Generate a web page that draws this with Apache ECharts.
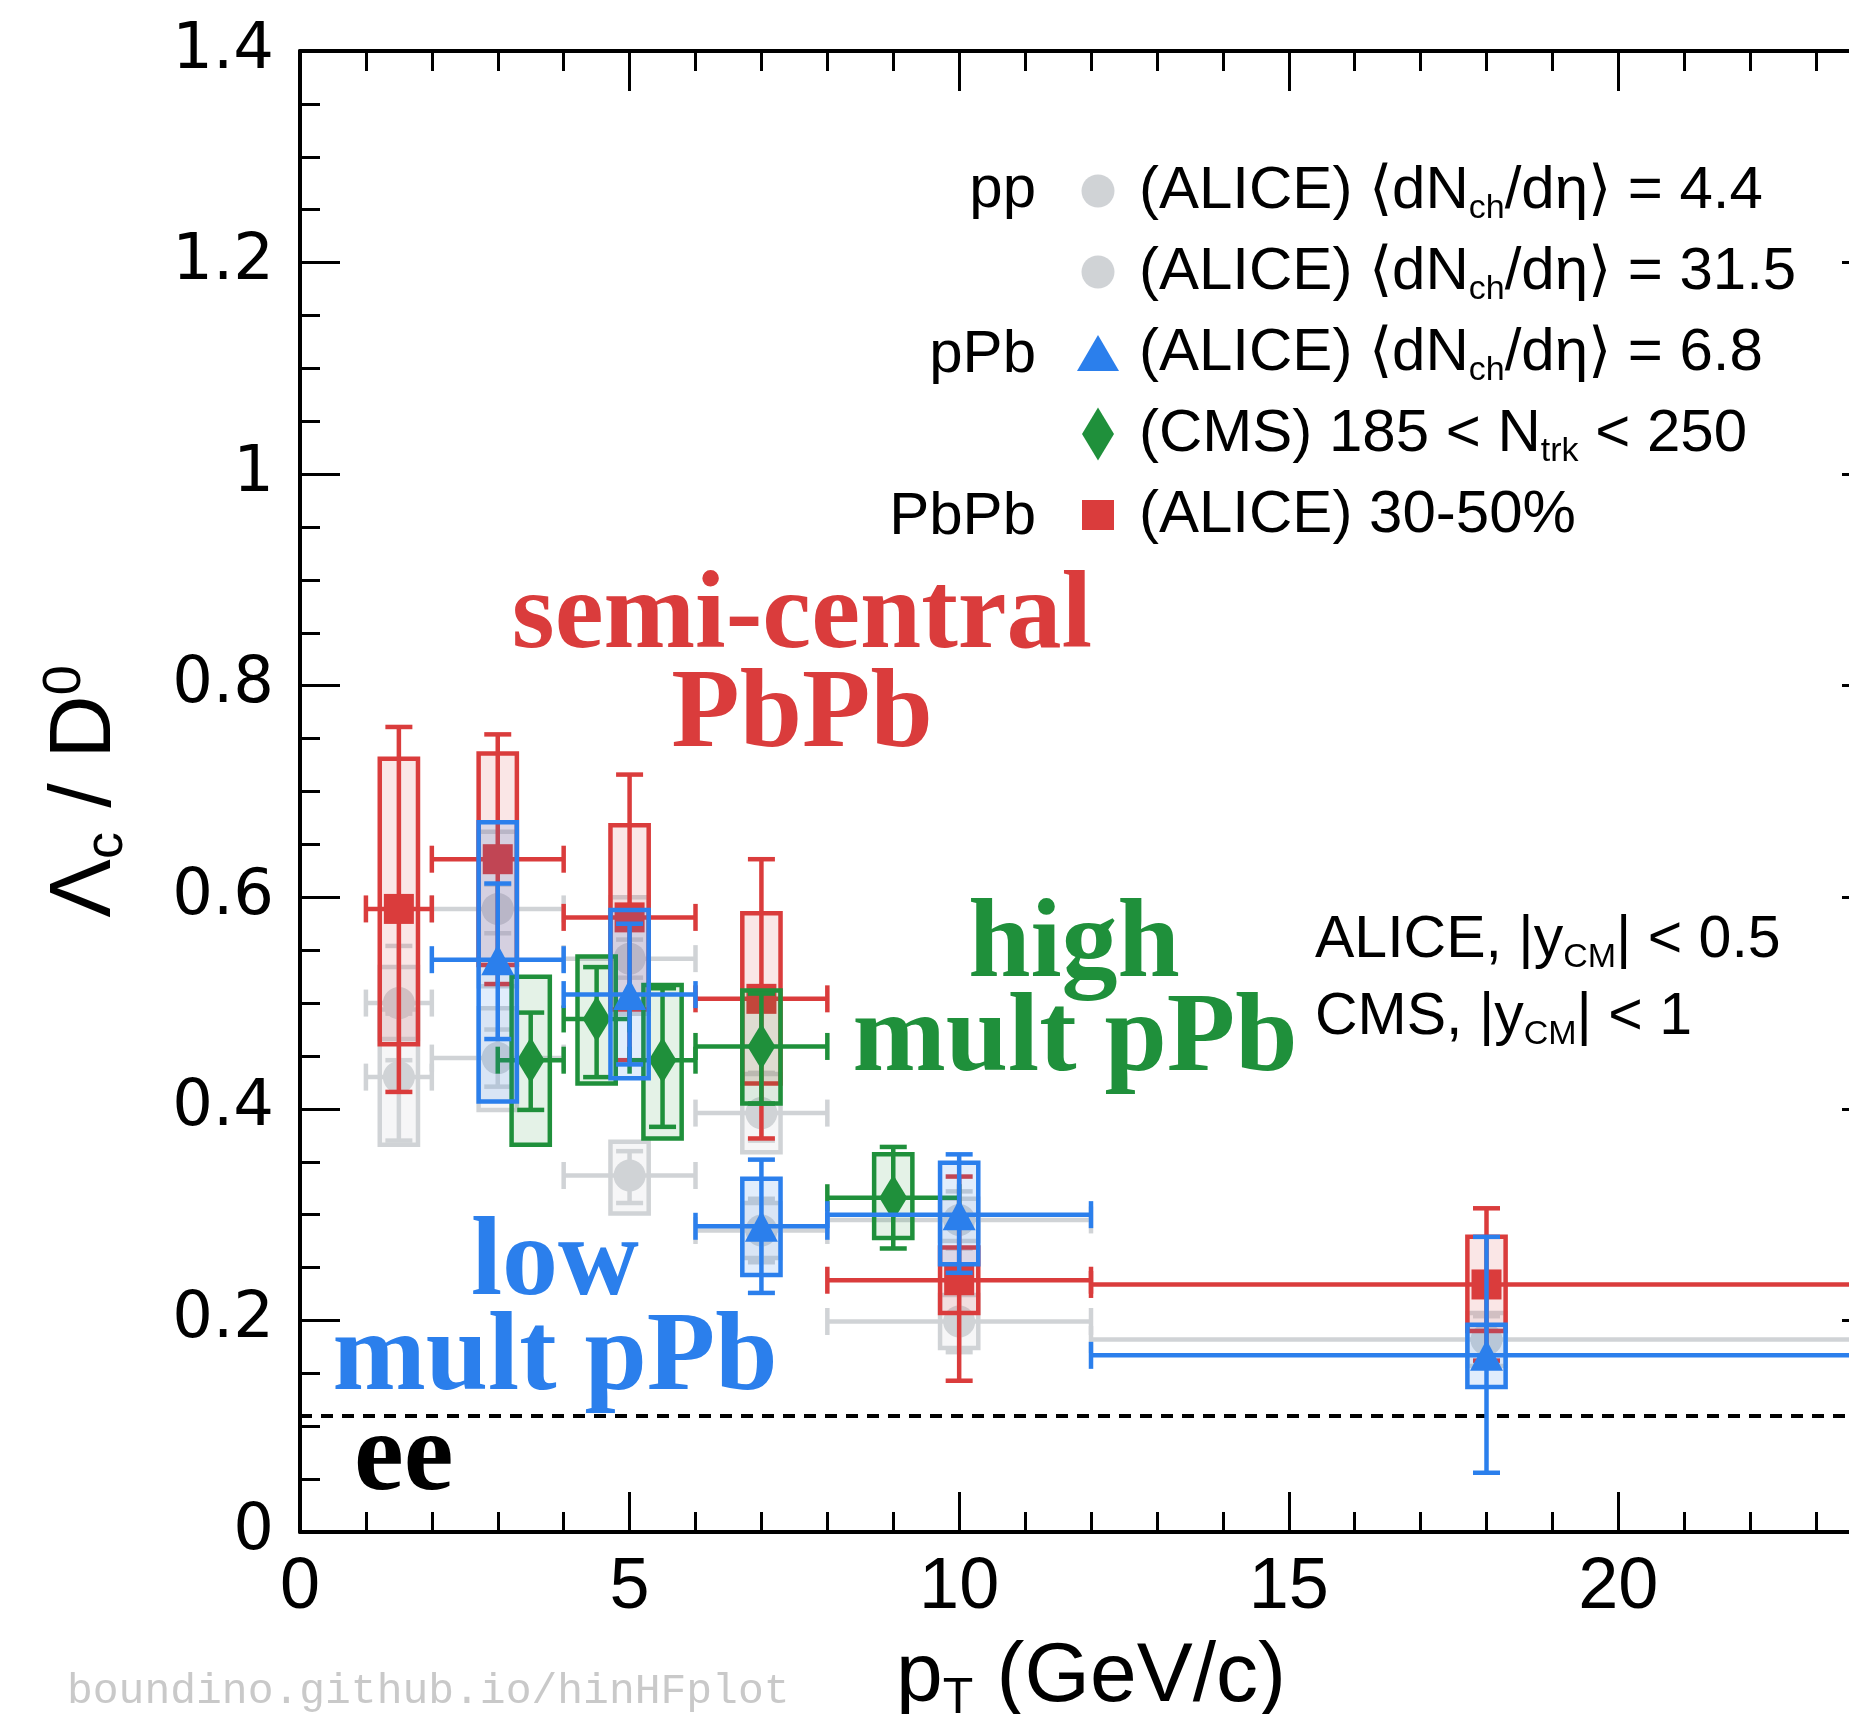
<!DOCTYPE html>
<html>
<head>
<meta charset="utf-8">
<script src="https://cdn.jsdelivr.net/npm/echarts@6/dist/echarts.min.js"></script>
<style>
  html, body { margin: 0; padding: 0; background: #ffffff; }
  #chart { width: 1849px; height: 1714px; }
</style>
</head>
<body>
<div id="chart"></div>
<script>
// ---------------- data: Lambda_c / D0 versus pT ----------------
// pp, ALICE, <dNch/deta> = 4.4
const ppLowPt      = [1.5, 3, 5, 7, 10, 18];
const ppLowPtLo    = [1, 2, 4, 6, 8, 12];
const ppLowPtHi    = [2, 4, 6, 8, 12, 24];
const ppLowRatio   = [0.430, 0.448, 0.337, 0.285, 0.199, 0.182];
const ppLowStatLo  = [0.370, 0.421, 0.311, 0.255, 0.170, 0.160];
const ppLowStatHi  = [0.490, 0.475, 0.360, 0.315, 0.228, 0.204];
const ppLowSysLo   = [0.366, 0.399, 0.301, 0.259, 0.174, 0.157];
const ppLowSysHi   = [0.494, 0.495, 0.369, 0.311, 0.224, 0.207];

// pp, ALICE, <dNch/deta> = 31.5
const ppHighPt     = [1.5, 3, 5, 7, 10];
const ppHighPtLo   = [1, 2, 4, 6, 8];
const ppHighPtHi   = [2, 4, 6, 8, 12];
const ppHighRatio  = [0.500, 0.589, 0.542, 0.396, 0.295];
const ppHighStatLo = [0.446, 0.566, 0.524, 0.370, 0.268];
const ppHighStatHi = [0.554, 0.612, 0.560, 0.434, 0.322];
const ppHighSysLo  = [0.466, 0.516, 0.490, 0.359, 0.275];
const ppHighSysHi  = [0.534, 0.662, 0.600, 0.433, 0.315];

// pPb, ALICE, <dNch/deta> = 6.8
const pPbPt        = [3, 5, 7, 10, 18];
const pPbPtLo      = [2, 4, 6, 8, 12];
const pPbPtHi      = [4, 6, 8, 12, 24];
const pPbRatio     = [0.541, 0.508, 0.289, 0.300, 0.167];
const pPbStatLo    = [0.466, 0.442, 0.226, 0.245, 0.056];
const pPbStatHi    = [0.613, 0.575, 0.352, 0.357, 0.279];
const pPbSysLo     = [0.407, 0.429, 0.243, 0.253, 0.137];
const pPbSysHi     = [0.671, 0.588, 0.334, 0.349, 0.196];

// pPb, CMS, 185 < Ntrk < 250
const cmsPt        = [3.5, 4.5, 5.5, 7, 9];
const cmsPtLo      = [3, 4, 5, 6, 8];
const cmsPtHi      = [4, 5, 6, 8, 10];
const cmsRatio     = [0.446, 0.485, 0.446, 0.459, 0.316];
const cmsStatLo    = [0.399, 0.430, 0.383, 0.405, 0.268];
const cmsStatHi    = [0.491, 0.534, 0.514, 0.509, 0.364];
const cmsSysLo     = [0.366, 0.424, 0.372, 0.405, 0.278];
const cmsSysHi     = [0.525, 0.544, 0.517, 0.512, 0.357];

// PbPb, ALICE, 30-50%
const pbpbPt       = [1.5, 3, 5, 7, 10, 18];
const pbpbPtLo     = [1, 2, 4, 6, 8, 12];
const pbpbPtHi     = [2, 4, 6, 8, 12, 24];
const pbpbRatio    = [0.589, 0.636, 0.581, 0.504, 0.238, 0.234];
const pbpbStatLo   = [0.416, 0.518, 0.446, 0.372, 0.143, 0.162];
const pbpbStatHi   = [0.761, 0.754, 0.716, 0.636, 0.336, 0.306];
const pbpbSysLo    = [0.461, 0.536, 0.494, 0.424, 0.207, 0.190];
const pbpbSysHi    = [0.731, 0.736, 0.668, 0.585, 0.269, 0.279];

// e+e- reference value
const eeRatio = 0.11;

// axis ranges
const X_MIN = 0, X_MAX = 24, X_MAJOR = 5, X_MINOR = 1;
const Y_MIN = 0, Y_MAX = 1.4, Y_MAJOR = 0.2;

// ---------------- styles ----------------
const RED = '#da3c3c', RED_FILL = 'rgba(218,60,60,0.13)';
const BLUE = '#2b7fec', BLUE_FILL = 'rgba(43,127,236,0.14)';
const GREEN = '#1f903b', GREEN_FILL = 'rgba(31,144,59,0.12)';
const GREY = '#d0d3d6', GREY_FILL = 'rgba(208,211,214,0.20)';
const LW = 4.5;        // error-bar / box stroke width
const CAP = 13.5;      // cap half-length in px
const BOX_HALF = 0.29; // half width of systematic boxes in pT units

const SANS = '"Liberation Sans", Arial, Helvetica, sans-serif';
const SERIF = '"Liberation Serif", "Times New Roman", serif';

// legend icons, all drawn inside the same 42 x 54 frame
const ICON_CIRCLE   = 'path://M0,0M42,54M37.5,27A16.5,16.5,0,1,1,4.5,27A16.5,16.5,0,1,1,37.5,27Z';
const ICON_TRIANGLE = 'path://M0,0M42,54M21,9L42,45L0,45Z';
const ICON_DIAMOND  = 'path://M0,0M42,54M21,0.5L37,27L21,53.5L5,27Z';
const ICON_SQUARE   = 'path://M0,0M42,54M5,12H37V42H5Z';

function rows(pt, lo, hi, y, sLo, sHi, bLo, bHi) {
  return pt.map((v, i) => [v, y[i], lo[i], hi[i], sLo[i], sHi[i], bLo[i], bHi[i]]);
}

function errorRenderer(color, fill) {
  return function (params, api) {
    const x = api.value(0), y = api.value(1);
    const c = api.coord([x, y]);
    const xl = api.coord([api.value(2), y])[0];
    const xh = api.coord([api.value(3), y])[0];
    const sLo = api.coord([x, api.value(4)])[1];
    const sHi = api.coord([x, api.value(5)])[1];
    const b0 = api.coord([x - BOX_HALF, api.value(6)]);
    const b1 = api.coord([x + BOX_HALF, api.value(7)]);
    const ls = { stroke: color, lineWidth: LW };
    return {
      type: 'group',
      children: [
        { type: 'rect', shape: { x: b0[0], y: b1[1], width: b1[0] - b0[0], height: b0[1] - b1[1] },
          style: { fill: fill, stroke: color, lineWidth: LW } },
        { type: 'line', shape: { x1: c[0], y1: sLo, x2: c[0], y2: sHi }, style: ls },
        { type: 'line', shape: { x1: c[0] - CAP, y1: sLo, x2: c[0] + CAP, y2: sLo }, style: ls },
        { type: 'line', shape: { x1: c[0] - CAP, y1: sHi, x2: c[0] + CAP, y2: sHi }, style: ls },
        { type: 'line', shape: { x1: xl, y1: c[1], x2: xh, y2: c[1] }, style: ls },
        { type: 'line', shape: { x1: xl, y1: c[1] - CAP, x2: xl, y2: c[1] + CAP }, style: ls },
        { type: 'line', shape: { x1: xh, y1: c[1] - CAP, x2: xh, y2: c[1] + CAP }, style: ls }
      ]
    };
  };
}

function errSeries(data, color, fill, z) {
  return {
    type: 'custom', silent: true, z: z, clip: true,
    renderItem: errorRenderer(color, fill),
    encode: { x: 0, y: 1 },
    data: data
  };
}

function markerSeries(name, pt, y, symbol, size, color, z) {
  return {
    type: 'scatter', name: name, silent: true, z: z,
    symbol: symbol, symbolSize: size,
    itemStyle: { color: color, opacity: 1 },
    data: pt.map((v, i) => [v, y[i]])
  };
}

const NAME_PP_LOW = 'pp 4.4', NAME_PP_HIGH = 'pp 31.5', NAME_PPB = 'pPb 6.8',
      NAME_CMS = 'pPb CMS', NAME_PBPB = 'PbPb 30-50';

const legendText = {};
legendText[NAME_PP_LOW]  = '{f|(ALICE) \u27E8dN}{s|ch}{t|/d\u03B7\u27E9 = 4.4}';
legendText[NAME_PP_HIGH] = '{f|(ALICE) \u27E8dN}{s|ch}{t|/d\u03B7\u27E9 = 31.5}';
legendText[NAME_PPB]     = '{f|(ALICE) \u27E8dN}{s|ch}{t|/d\u03B7\u27E9 = 6.8}';
legendText[NAME_CMS]     = '{f|(CMS) 185 < N}{s|trk}{t| < 250}';
legendText[NAME_PBPB]    = '{f|(ALICE) 30-50%}';

const ppLowSeries = markerSeries(NAME_PP_LOW, ppLowPt, ppLowRatio, 'circle', 32, GREY, 3);
ppLowSeries.markLine = {
  silent: true, symbol: ['none', 'none'], label: { show: false },
  lineStyle: { color: '#000', width: 4, type: [12, 9] },
  data: [{ yAxis: eeRatio }]
};

const series = [
  errSeries(rows(ppLowPt, ppLowPtLo, ppLowPtHi, ppLowRatio, ppLowStatLo, ppLowStatHi, ppLowSysLo, ppLowSysHi), GREY, GREY_FILL, 2),
  errSeries(rows(ppHighPt, ppHighPtLo, ppHighPtHi, ppHighRatio, ppHighStatLo, ppHighStatHi, ppHighSysLo, ppHighSysHi), GREY, GREY_FILL, 2),
  ppLowSeries,
  markerSeries(NAME_PP_HIGH, ppHighPt, ppHighRatio, 'circle', 32, GREY, 3),
  errSeries(rows(pbpbPt, pbpbPtLo, pbpbPtHi, pbpbRatio, pbpbStatLo, pbpbStatHi, pbpbSysLo, pbpbSysHi), RED, RED_FILL, 4),
  markerSeries(NAME_PBPB, pbpbPt, pbpbRatio, 'rect', 30, RED, 5),
  errSeries(rows(cmsPt, cmsPtLo, cmsPtHi, cmsRatio, cmsStatLo, cmsStatHi, cmsSysLo, cmsSysHi), GREEN, GREEN_FILL, 6),
  markerSeries(NAME_CMS, cmsPt, cmsRatio, 'diamond', [28, 46], GREEN, 7),
  errSeries(rows(pPbPt, pPbPtLo, pPbPtHi, pPbRatio, pPbStatLo, pPbStatHi, pPbSysLo, pPbSysHi), BLUE, BLUE_FILL, 8),
  markerSeries(NAME_PPB, pPbPt, pPbRatio, 'triangle', [33, 31], BLUE, 9)
];

const axisLineStyle = { show: true, onZero: false, lineStyle: { color: '#000', width: 4 } };
const tickStyle = { color: '#000', width: 3 };

function xAxisDef(position, interval, tickLen, withLine, withLabel) {
  const ax = {
    type: 'value', position: position, min: X_MIN, max: X_MAX, interval: interval,
    axisLine: withLine ? axisLineStyle : { show: false, onZero: false },
    axisTick: { show: true, inside: true, length: tickLen, lineStyle: tickStyle },
    splitLine: { show: false },
    axisLabel: { show: false }
  };
  if (withLabel) {
    ax.axisLabel = {
      show: true, color: '#000', fontFamily: SANS, fontSize: 72, margin: 20,
      showMaxLabel: false
    };
    ax.name = '{t|p}{s|T}{t| (GeV/c)}';
    ax.nameLocation = 'middle';
    ax.nameGap = 100;
    ax.nameMoveOverlap = false;
    ax.nameTextStyle = {
      rich: {
        t: { fontFamily: SANS, fontSize: 84, color: '#000', lineHeight: 92 },
        s: { fontFamily: SANS, fontSize: 50, color: '#000', lineHeight: 50, verticalAlign: 'bottom' }
      }
    };
  }
  return ax;
}

function yAxisDef(position, withLabel) {
  const ax = {
    type: 'value', position: position, min: Y_MIN, max: Y_MAX, interval: Y_MAJOR,
    axisLine: axisLineStyle,
    axisTick: { show: true, inside: true, length: 40, lineStyle: tickStyle },
    minorTick: { show: true, splitNumber: 4, length: 20, lineStyle: tickStyle },
    splitLine: { show: false },
    minorSplitLine: { show: false },
    axisLabel: { show: false }
  };
  if (withLabel) {
    ax.axisLabel = { show: true, color: '#000', fontFamily: '"DejaVu Sans", sans-serif', fontSize: 64, margin: 26 };
    ax.name = '{t|\u039B}{s|c}{t| / D}{p|0}';
    ax.nameLocation = 'middle';
    ax.nameRotate = 90;
    ax.nameGap = 166;
    ax.nameMoveOverlap = false;
    ax.nameTextStyle = {
      rich: {
        t: { fontFamily: SANS, fontSize: 88, color: '#000', lineHeight: 96 },
        s: { fontFamily: SANS, fontSize: 54, color: '#000', lineHeight: 64, verticalAlign: 'bottom' },
        p: { fontFamily: SANS, fontSize: 54, color: '#000', lineHeight: 54, verticalAlign: 'top' }
      }
    };
  }
  return ax;
}

function label(text, x, y, color, size, align, family, weight) {
  return {
    type: 'text', x: x, y: y, silent: true, z: 20,
    style: {
      text: text, fill: color, align: align || 'left', verticalAlign: 'middle',
      font: (weight || 'normal') + ' ' + size + 'px ' + (family || SANS)
    }
  };
}

function richLabel(text, x, y) {
  return {
    type: 'text', x: x, y: y, silent: true, z: 20,
    style: {
      text: text, align: 'left', verticalAlign: 'middle',
      rich: {
        t: { fontFamily: SANS, fontSize: 59, fill: '#000', lineHeight: 68 },
        s: { fontFamily: SANS, fontSize: 34, fill: '#000', lineHeight: 34, verticalAlign: 'bottom' }
      }
    }
  };
}

const option = {
  animation: false,
  backgroundColor: '#ffffff',
  grid: { left: 300, top: 51, width: 1582, height: 1481, containLabel: false, outerBoundsMode: 'none' },
  xAxis: [
    xAxisDef('bottom', X_MAJOR, 40, true, true),
    xAxisDef('bottom', X_MINOR, 20, false, false),
    xAxisDef('top', X_MAJOR, 40, true, false),
    xAxisDef('top', X_MINOR, 20, false, false)
  ],
  yAxis: [yAxisDef('left', true), yAxisDef('right', false)],
  legend: {
    data: [
      { name: NAME_PP_LOW, icon: ICON_CIRCLE },
      { name: NAME_PP_HIGH, icon: ICON_CIRCLE },
      { name: NAME_PPB, icon: ICON_TRIANGLE },
      { name: NAME_CMS, icon: ICON_DIAMOND },
      { name: NAME_PBPB, icon: ICON_SQUARE }
    ],
    orient: 'vertical', left: 1072, top: 156,
    itemWidth: 42, itemHeight: 54, itemGap: 16,
    symbolKeepAspect: true, selectedMode: false,
    formatter: function (name) { return legendText[name]; },
    textStyle: {
      rich: {
        f: { fontFamily: SANS, fontSize: 60, color: '#000', lineHeight: 70, padding: [0, 0, 0, 15] },
        t: { fontFamily: SANS, fontSize: 60, color: '#000', lineHeight: 70 },
        s: { fontFamily: SANS, fontSize: 34, color: '#000', lineHeight: 34, verticalAlign: 'bottom' }
      }
    }
  },
  graphic: [
    label('pp', 1036, 190, '#000', 60, 'right'),
    label('pPb', 1036, 355, '#000', 60, 'right'),
    label('PbPb', 1036, 517, '#000', 60, 'right'),
    richLabel('{t|ALICE, |y}{s|CM}{t|| < 0.5}', 1315, 941),
    richLabel('{t|CMS, |y}{s|CM}{t|| < 1}', 1315, 1018),
    label('semi-central', 802, 619, RED, 110, 'center', SERIF, 'bold'),
    label('PbPb', 802, 717, RED, 112, 'center', SERIF, 'bold'),
    label('high', 1074, 947, GREEN, 112, 'center', SERIF, 'bold'),
    label('mult pPb', 1075, 1041, GREEN, 112, 'center', SERIF, 'bold'),
    label('low', 555, 1265, BLUE, 112, 'center', SERIF, 'bold'),
    label('mult pPb', 555, 1360, BLUE, 112, 'center', SERIF, 'bold'),
    label('ee', 354, 1460, '#000', 112, 'left', SERIF, 'bold'),
    label('boundino.github.io/hinHFplot', 67, 1692, '#c9c9c9', 43, 'left', '"Liberation Mono", "DejaVu Sans Mono", monospace')
  ],
  series: series
};

const chart = echarts.init(document.getElementById('chart'), null, { renderer: 'canvas' });
chart.setOption(option);
</script>
</body>
</html>
